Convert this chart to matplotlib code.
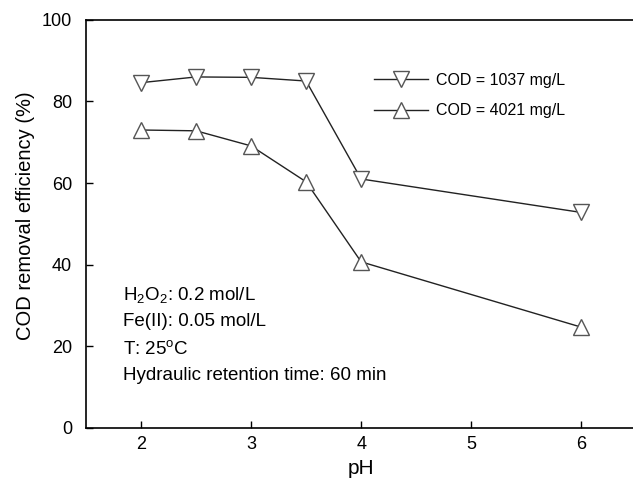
import matplotlib
matplotlib.use('Agg')
import matplotlib.pyplot as plt

plt.rcParams['font.family'] = ['Liberation Sans', 'DejaVu Sans']
plt.rcParams['mathtext.fontset'] = 'custom'
plt.rcParams['mathtext.rm'] = 'Liberation Sans'
plt.rcParams['mathtext.it'] = 'Liberation Sans'

# data
ph = [2, 2.5, 3, 3.5, 4, 6]
cod_1037 = [84.6, 86.0, 85.9, 85.0, 61.0, 52.8]
cod_4021 = [73.0, 72.8, 69.1, 60.3, 40.7, 24.7]
labels = ['COD = 1037 mg/L', 'COD = 4021 mg/L']
notes = [r'H$_2$O$_2$: 0.2 mol/L', 'Fe(II): 0.05 mol/L',
         r'T: 25$^\mathrm{o}$C', 'Hydraulic retention time: 60 min']

fig = plt.figure(figsize=(6.33, 4.83), dpi=100)
ax = fig.add_axes([0.136, 0.114, 0.869, 0.845])

mk = dict(markersize=11, markerfacecolor='white', markeredgecolor='#555555',
          markeredgewidth=1.0, color='#222222', linewidth=1.0)
ax.plot(ph, cod_1037, marker='v', label=labels[0], **mk)
ax.plot(ph, cod_4021, marker='^', label=labels[1], **mk)

ax.set_xlim(1.5, 6.5)
ax.set_ylim(0, 100)
ax.set_xticks([2, 3, 4, 5, 6])
ax.set_yticks([0, 20, 40, 60, 80, 100])
ax.tick_params(direction='in', length=5, labelsize=13, width=1)
ax.tick_params(axis='y', pad=10)
ax.tick_params(axis='x', pad=6)
for s in ax.spines.values():
    s.set_linewidth(1.2)

ax.set_xlabel('pH', fontsize=15, labelpad=4)
ax.set_ylabel('COD removal efficiency (%)', fontsize=14.5)
ax.yaxis.set_label_coords(-0.093, 0.52)

ax.legend(loc='upper left', bbox_to_anchor=(0.497, 0.905), frameon=False,
          fontsize=11.5, handlelength=3.4, labelspacing=0.95, handletextpad=0.5)

for i, t in enumerate(notes):
    ax.text(0.067, 0.326 - i * 0.066, t, transform=ax.transAxes,
            fontsize=13.5, va='center', ha='left')

fig.savefig('out.png', dpi=100)
